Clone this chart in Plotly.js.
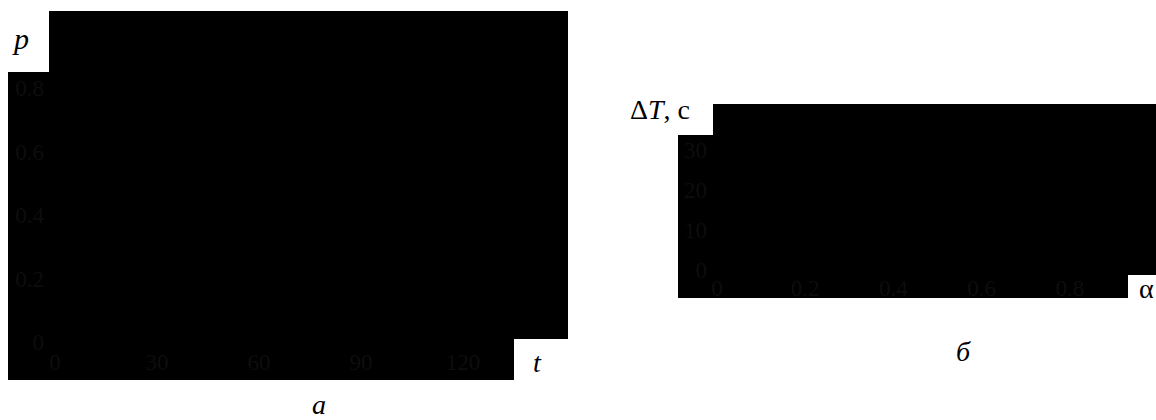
<!DOCTYPE html>
<html>
<head>
<meta charset="utf-8">
<script src="https://cdn.plot.ly/plotly-3.0.1.min.js"></script>
<style>html,body{margin:0;padding:0;background:#fff;}#chart{width:1156px;height:420px;}</style>
</head>
<body>
<div id="chart"></div>
<script>
// Panel а: p vs t (tick values / labels)
const tTicks = [0, 30, 60, 90, 120];
const tLabels = ["0", "30", "60", "90", "120"];
const pTicks = [0, 0.2, 0.4, 0.6, 0.8];
const pLabels = ["0", "0.2", "0.4", "0.6", "0.8"];
// Panel б: ΔT vs α
const alphaTicks = [0, 0.2, 0.4, 0.6, 0.8];
const alphaLabels = ["0", "0.2", "0.4", "0.6", "0.8"];
const dTTicks = [0, 10, 20, 30];
const dTLabels = ["0", "10", "20", "30"];

const W = 1156, H = 420;
const px = x => x / W;
const py = y => 1 - y / H;

const tickFont = {family: "Liberation Serif, Times New Roman, serif", size: 23, color: "#0d0d0d"};
const labFont = {family: "Liberation Serif, Times New Roman, serif", size: 28, color: "#000"};

const axBase = {showgrid: false, zeroline: false, showline: false, ticks: "", tickfont: tickFont, tickmode: "array", fixedrange: true};

const data = [
  {x: [], y: [], xaxis: "x", yaxis: "y", mode: "lines", line: {color: "#000"}, showlegend: false},
  {x: [], y: [], xaxis: "x2", yaxis: "y2", mode: "lines", line: {color: "#000"}, showlegend: false}
];

const layout = {
  width: W, height: H,
  margin: {l: 0, r: 0, t: 0, b: 0, pad: 0},
  paper_bgcolor: "#fff",
  plot_bgcolor: "rgba(0,0,0,0)",
  showlegend: false,
  xaxis: Object.assign({}, axBase, {domain: [px(55), px(514)], range: [0, 135], tickvals: tTicks, ticktext: tLabels, ticklabelstandoff: 4, anchor: "y"}),
  yaxis: Object.assign({}, axBase, {domain: [py(342), py(11)], range: [0, 1.0425], tickvals: pTicks, ticktext: pLabels, ticklabelstandoff: 10, anchor: "x"}),
  xaxis2: Object.assign({}, axBase, {domain: [px(717), 1], range: [0, 0.9955], tickvals: alphaTicks, ticktext: alphaLabels, ticklabelstandoff: 2, anchor: "y2"}),
  yaxis2: Object.assign({}, axBase, {domain: [py(270), py(104)], range: [0, 41.5], tickvals: dTTicks, ticktext: dTLabels, ticklabelstandoff: 9, anchor: "x2"}),
  shapes: [
    {type: "rect", xref: "paper", yref: "paper", x0: px(8), x1: px(568), y0: py(380), y1: py(11), fillcolor: "#000", line: {width: 0}, layer: "below"},
    {type: "rect", xref: "paper", yref: "paper", x0: px(0), x1: px(49), y0: py(72), y1: py(0), fillcolor: "#fff", line: {width: 0}, layer: "below"},
    {type: "rect", xref: "paper", yref: "paper", x0: px(514), x1: px(580), y0: py(381), y1: py(339), fillcolor: "#fff", line: {width: 0}, layer: "below"},
    {type: "rect", xref: "paper", yref: "paper", x0: px(678), x1: px(1156), y0: py(298), y1: py(104), fillcolor: "#000", line: {width: 0}, layer: "below"},
    {type: "rect", xref: "paper", yref: "paper", x0: px(670), x1: px(713), y0: py(135), y1: py(95), fillcolor: "#fff", line: {width: 0}, layer: "below"},
    {type: "rect", xref: "paper", yref: "paper", x0: px(1128), x1: px(1156), y0: py(299), y1: py(275), fillcolor: "#fff", line: {width: 0}, layer: "below"}
  ],
  annotations: [
    {text: "<i>p</i>", xref: "paper", yref: "paper", x: px(20), y: py(38), xanchor: "center", yanchor: "middle", showarrow: false, font: Object.assign({}, labFont, {size: 30})},
    {text: "<i>t</i>", xref: "paper", yref: "paper", x: px(537), y: py(362), xanchor: "center", yanchor: "middle", showarrow: false, font: labFont},
    {text: "<i>а</i>", xref: "paper", yref: "paper", x: px(319), y: 0, xanchor: "center", yanchor: "bottom", height: 30, valign: "top", borderpad: 0, showarrow: false, font: labFont},
    {text: "Δ<i>T</i>, с", xref: "paper", yref: "paper", x: px(660), y: py(110), xanchor: "center", yanchor: "middle", showarrow: false, font: labFont},
    {text: "α", xref: "paper", yref: "paper", x: px(1146), y: py(288), xanchor: "center", yanchor: "middle", showarrow: false, font: labFont},
    {text: "<i>б</i>", xref: "paper", yref: "paper", x: px(963), y: py(351), xanchor: "center", yanchor: "middle", showarrow: false, font: labFont}
  ]
};

Plotly.newPlot("chart", data, layout, {displayModeBar: false, staticPlot: true});
</script>
</body>
</html>
